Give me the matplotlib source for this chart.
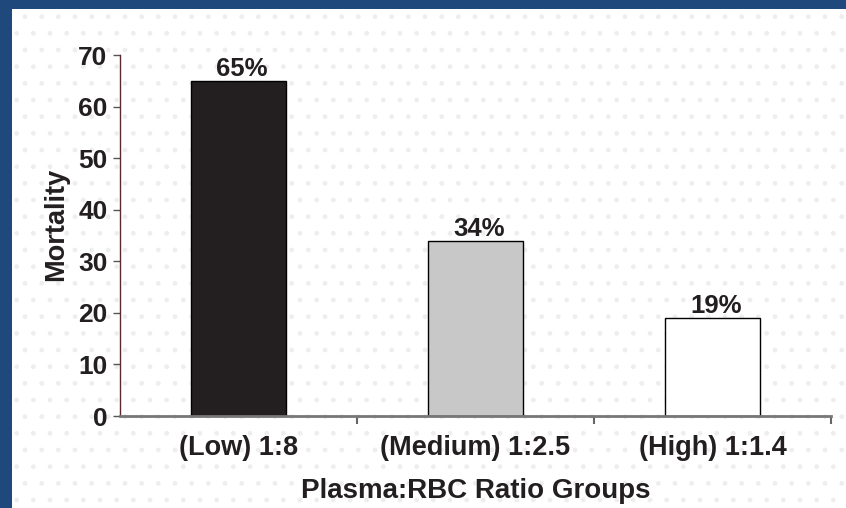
import matplotlib.pyplot as plt
from matplotlib.patches import Rectangle

# data
groups = ['(Low) 1:8', '(Medium) 1:2.5', '(High) 1:1.4']
mortality = [65, 34, 19]
bar_colors = ['#231f20', '#c8c8c8', '#ffffff']

plt.rcParams['font.family'] = 'Liberation Sans'
plt.rcParams['font.weight'] = 'bold'

fig = plt.figure(figsize=(8.46, 5.08), dpi=100)
fig.patch.set_facecolor('#1f497d')

# white slide area with faint dot pattern
bg = Rectangle((12 / 846, 0), 1 - 12 / 846, 1 - 9 / 508, transform=fig.transFigure,
               facecolor='white', edgecolor='#eeeeee', hatch='.', linewidth=0, zorder=-5)
fig.patches.append(bg)

ax = fig.add_axes([120 / 846, 92 / 508, 711 / 846, 361 / 508])
ax.patch.set_alpha(0)
ax.set_zorder(2)

x = range(len(groups))
ax.bar(x, mortality, width=0.4, color=bar_colors, edgecolor='black', linewidth=1)

for xi, v in zip(x, mortality):
    ax.text(xi + 0.015, v + 1, f'{v}%', ha='center', va='baseline', fontsize=18.5,
            fontweight='bold', color='#231f20')

ax.set_xlim(-0.5, 2.5)
ax.set_ylim(0, 70)
ax.set_yticks(range(0, 71, 10))
ax.set_xticks([0.5, 1.5, 2.5], minor=False)
ax.set_xticklabels([])
ax.set_xticks(list(x), minor=True)
ax.set_xticklabels(groups, minor=True)
ax.tick_params(axis='x', which='minor', length=0, pad=14, labelsize=19.5,
               labelcolor='#231f20')
ax.tick_params(axis='x', which='major', length=6, width=1.5, color='#666666')
ax.tick_params(axis='y', length=5, width=1, color='#555555', labelsize=19,
               labelcolor='#231f20', pad=4)

for s in ['top', 'right']:
    ax.spines[s].set_visible(False)
ax.spines['left'].set_color('#5a2a2a')
ax.spines['left'].set_linewidth(1)
ax.spines['bottom'].set_color('#777777')
ax.spines['bottom'].set_linewidth(2)

ax.set_ylabel('Mortality', fontsize=19.5, fontweight='bold', color='#231f20')
ax.yaxis.set_label_coords(-0.072, 0.53)
ax.set_xlabel('Plasma:RBC Ratio Groups', fontsize=20, fontweight='bold',
              color='#231f20', labelpad=12)

fig.savefig('out.png', dpi=100)
